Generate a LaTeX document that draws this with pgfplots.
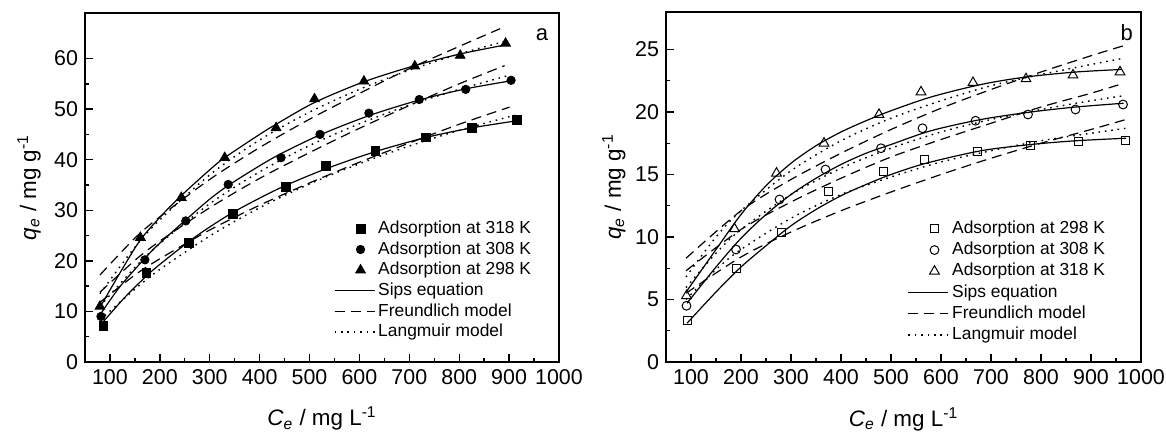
\documentclass[border=0pt]{standalone}
\usepackage{fontspec}
\setmainfont{Liberation Sans}
\usepackage{pgfplots}
\pgfplotsset{compat=1.18}
\pgfplotsset{
  myaxis/.style={
    scale only axis,
    xmin=50, xmax=1000,
    xtick={100,200,...,1000},
    minor x tick num=1,
    minor y tick num=1,
    tick align=inside,
    xtick pos=left, ytick pos=left,
    major tick length=3.8pt, minor tick length=2pt,
    axis line style={line width=0.8pt},
    every tick/.style={line width=0.7pt, black},
    /pgf/number format/assume math mode=true,
    /pgf/number format/1000 sep={},
    tick label style={font=\fontsize{10.7}{12}\selectfont},
    label style={font=\fontsize{11.2}{13}\selectfont},
    xlabel={\textit{C}\textsubscript{\textit{e}} / mg L\textsuperscript{-1}},
    ylabel={\textit{q}\textsubscript{\textit{e}} / mg g\textsuperscript{-1}},
    x label style={at={(axis description cs:0.5,-0.183)}, anchor=base},
    legend cell align=left,
    legend style={draw=none, fill=none, inner sep=0pt, outer sep=0pt,
      font=\fontsize{8.7}{10}\selectfont, row sep=1pt, column sep=1pt,
      nodes={inner sep=0.5pt, text height=6.5pt, text depth=1.8pt}},
  },
  markleg/.style={legend image code/.code={\path[draw=none,fill=none] (0pt,0pt) (20pt,0pt); \draw[##1] plot[only marks] coordinates {(13pt,0pt)};}},
  lineleg/.style={legend image code/.code={\draw[##1] (0pt,0pt) -- (20pt,0pt);}},
  sips/.style={black, line width=0.6pt, smooth, no markers, lineleg},
  freund/.style={black, line width=0.6pt, dash pattern=on 5pt off 3pt, smooth, no markers, lineleg},
  lang/.style={black, line width=0.7pt, dash pattern=on 0.8pt off 2.4pt, smooth, no markers, lineleg},
}
\begin{document}
\begin{tikzpicture}
\path[use as bounding box] (0,0) rectangle (583pt,216.5pt);
% ---------------- panel a ----------------
\begin{axis}[myaxis, at={(42.5pt,35.5pt)}, anchor=south west,
  width=237pt, height=174.5pt,
  ymin=0, ymax=69, ytick={0,10,...,60},
  y label style={at={(axis description cs:-0.118,0.5)}, anchor=center},
  legend style={at={(0.525,0.408)}, anchor=north west}]
\addplot[only marks, mark=square*, mark size=2.2pt, black, markleg] coordinates {(87,7.1)(173,17.6)(258,23.6)(347,29.3)(452,34.6)(533,38.7)(632,41.7)(734,44.4)(826,46.3)(916,47.8)};
\addlegendentry{Adsorption at 318 K}
\addplot[only marks, mark=*, mark size=2.1pt, black, markleg] coordinates {(82,9.0)(170,20.2)(252,27.9)(337,35.1)(443,40.4)(521,45.0)(619,49.2)(720,51.9)(813,53.9)(904,55.7)};
\addlegendentry{Adsorption at 308 K}
\addplot[only marks, mark=triangle*, mark size=2.8pt, black, markleg] coordinates {(80,11.0)(161,24.6)(243,32.5)(330,40.4)(433,46.3)(510,52.0)(609,55.5)(711,58.5)(802,60.6)(893,63.0)};
\addlegendentry{Adsorption at 298 K}
\addplot[sips] coordinates {(80,10.8)(120,17.6)(160,24.0)(200,28.6)(243,32.9)(300,38.0)(330,40.4)(400,45.0)(433,47.0)(510,51.3)(609,55.4)(711,58.6)(802,60.9)(893,62.7)};
\addlegendentry{Sips equation}
\addplot[sips, forget plot] coordinates {(82,9.6)(120,14.9)(170,20.5)(200,23.5)(252,28.1)(300,32.2)(337,34.9)(400,38.8)(443,41.2)(521,44.9)(619,48.7)(720,51.8)(813,54.0)(904,55.6)};
\addplot[sips, forget plot] coordinates {(87,8.0)(130,12.8)(173,17.0)(200,19.3)(258,23.8)(300,26.7)(347,29.6)(400,32.4)(452,34.9)(533,38.2)(632,41.6)(734,44.4)(826,46.3)(916,47.7)};
\addplot[freund] coordinates {(80,17.2)(150,24.5)(200,28.7)(300,36.1)(400,42.4)(500,48.0)(600,53.1)(700,58.0)(800,62.4)(882,65.9)};
\addlegendentry{Freundlich model}
\addplot[freund, forget plot] coordinates {(80,13.8)(150,20.1)(200,23.9)(300,30.5)(400,36.3)(500,41.4)(600,46.2)(700,50.7)(800,55.0)(891,58.6)};
\addplot[freund, forget plot] coordinates {(80,11.8)(150,17.2)(200,20.4)(300,26.1)(400,31.0)(500,35.4)(600,39.5)(700,43.3)(800,47.0)(901,50.4)};
\addplot[lang] coordinates {(80,13.5)(150,22.7)(200,28.1)(300,37.0)(400,43.9)(500,49.4)(600,53.9)(700,57.7)(800,60.9)(892,63.4)};
\addlegendentry{Langmuir model}
\addplot[lang, forget plot] coordinates {(80,11.0)(150,18.7)(200,23.4)(300,31.3)(400,37.6)(500,42.8)(600,47.1)(700,50.8)(800,53.9)(901,56.7)};
\addplot[lang, forget plot] coordinates {(80,8.3)(150,14.4)(200,18.3)(300,24.9)(400,30.5)(500,35.2)(600,39.2)(700,42.7)(800,45.8)(912,48.8)};
\node[font=\fontsize{11}{13}\selectfont] at (rel axis cs:0.964,0.937) {a};
\end{axis}
% ---------------- panel b ----------------
\begin{axis}[myaxis, at={(333pt,35.5pt)}, anchor=south west,
  width=237.5pt, height=175pt,
  ymin=0, ymax=28, ytick={0,5,...,25},
  y label style={at={(axis description cs:-0.11,0.5)}, anchor=center},
  legend style={at={(0.509,0.407)}, anchor=north west, row sep=1.3pt}]
\addplot[only marks, mark=square, mark size=2.0pt, black, line width=0.5pt, markleg] coordinates {(92,3.3)(190,7.5)(280,10.35)(374,13.6)(484,15.2)(567,16.2)(673,16.8)(779,17.3)(874,17.6)(969,17.7)};
\addlegendentry{Adsorption at 298 K}
\addplot[only marks, mark=o, mark size=2.2pt, black, line width=0.5pt, markleg] coordinates {(91,4.5)(190,9.0)(277,13.0)(369,15.4)(480,17.1)(563,18.7)(669,19.3)(774,19.8)(869,20.2)(964,20.6)};
\addlegendentry{Adsorption at 308 K}
\addplot[only marks, mark=triangle, mark size=2.8pt, black, line width=0.5pt, markleg] coordinates {(91,5.3)(187,10.65)(271,15.1)(366,17.5)(476,19.8)(560,21.6)(664,22.35)(770,22.65)(864,22.95)(958,23.2)};
\addlegendentry{Adsorption at 318 K}
\addplot[sips] coordinates {(92,5.7)(150,9.0)(200,11.8)(250,14.1)(300,15.9)(350,17.3)(400,18.4)(450,19.3)(500,20.1)(580,21.2)(680,22.2)(770,22.8)(870,23.2)(960,23.4)};
\addlegendentry{Sips equation}
\addplot[sips, forget plot] coordinates {(92,4.7)(150,7.6)(200,9.9)(250,11.8)(300,13.4)(350,14.7)(400,15.8)(450,16.7)(500,17.4)(580,18.5)(680,19.4)(780,20.0)(870,20.4)(965,20.7)};
\addplot[sips, forget plot] coordinates {(92,3.1)(150,5.6)(200,7.6)(250,9.3)(300,10.9)(350,12.2)(400,13.3)(450,14.2)(500,15.0)(570,15.9)(680,16.9)(780,17.4)(870,17.7)(970,17.9)};
\addplot[freund] coordinates {(90,8.3)(200,12.1)(300,14.6)(400,16.7)(500,18.6)(600,20.3)(700,21.8)(800,23.2)(900,24.5)(965,25.3)};
\addlegendentry{Freundlich model}
\addplot[freund, forget plot] coordinates {(90,7.3)(200,10.6)(300,12.8)(400,14.7)(500,16.4)(600,17.8)(700,19.1)(800,20.4)(900,21.5)(965,22.3)};
\addplot[freund, forget plot] coordinates {(90,5.5)(200,8.4)(300,10.4)(400,12.1)(500,13.6)(600,15.0)(700,16.3)(800,17.5)(900,18.6)(970,19.4)};
\addplot[lang] coordinates {(90,6.8)(150,10.0)(200,12.1)(300,15.3)(400,17.7)(500,19.5)(600,20.9)(700,22.1)(800,23.0)(900,23.8)(965,24.3)};
\addlegendentry{Langmuir model}
\addplot[lang, forget plot] coordinates {(90,5.95)(150,8.7)(200,10.6)(300,13.4)(400,15.5)(500,17.1)(600,18.4)(700,19.4)(800,20.2)(900,20.9)(965,21.3)};
\addplot[lang, forget plot] coordinates {(90,5.0)(150,7.4)(200,9.0)(300,11.5)(400,13.4)(500,14.8)(600,16.0)(700,16.9)(800,17.7)(900,18.3)(970,18.7)};
\node[font=\fontsize{11}{13}\selectfont] at (rel axis cs:0.97,0.941) {b};
\end{axis}
\end{tikzpicture}
\end{document}
